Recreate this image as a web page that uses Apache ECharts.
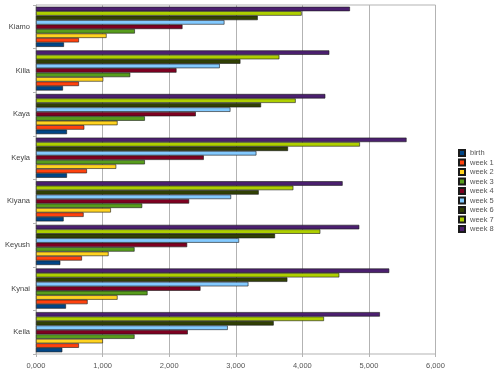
<!DOCTYPE html>
<html>
<head>
<meta charset="utf-8">
<script src="https://cdn.jsdelivr.net/npm/echarts@6/dist/echarts.min.js"></script>
<style>html,body{margin:0;padding:0;background:#fff;}#c{width:500px;height:380px;}</style>
</head>
<body>
<div id="c"></div>
<script>
var categories = ['Kiamo', 'Killa', 'Kaya', 'Keyla', 'Kiyana', 'Keyush', 'Kynai', 'Keila'];
var seriesNames = ['birth', 'week 1', 'week 2', 'week 3', 'week 4', 'week 5', 'week 6', 'week 7', 'week 8'];
var birth = [420, 405, 465, 465, 415, 365, 450, 395];
var week1 = [645, 645, 725, 765, 715, 690, 775, 645];
var week2 = [1060, 1010, 1225, 1205, 1125, 1090, 1225, 1005];
var week3 = [1485, 1415, 1635, 1635, 1595, 1480, 1675, 1480];
var week4 = [2200, 2110, 2400, 2520, 2300, 2270, 2470, 2280];
var week5 = [2830, 2760, 2920, 3310, 2930, 3050, 3190, 2880];
var week6 = [3330, 3070, 3380, 3785, 3345, 3590, 3775, 3570];
var week7 = [3990, 3655, 3900, 4865, 3865, 4270, 4555, 4325];
var week8 = [4715, 4405, 4345, 5565, 4605, 4855, 5305, 5165];
var xTickLabels = ['0,000', '1,000', '2,000', '3,000', '4,000', '5,000', '6,000'];
var colors = ['#004586', '#ff420e', '#ffd320', '#579d1c', '#7e0021', '#83caff', '#314004', '#aecf00', '#4b1f6f'];

var allData = [birth, week1, week2, week3, week4, week5, week6, week7, week8];
var series = [];
for (var i = seriesNames.length - 1; i >= 0; i--) {
  series.push({
    name: seriesNames[i],
    type: 'bar',
    data: allData[i],
    barGap: '0%',
    barCategoryGap: '8%',
    itemStyle: { color: colors[i], borderColor: '#1a1a1a', borderWidth: 0.6 }
  });
}

var FONT = 'Liberation Sans';
var chart = echarts.init(document.getElementById('c'), null, { renderer: 'canvas' });
chart.setOption({
  animation: false,
  backgroundColor: '#fff',
  textStyle: { fontFamily: FONT },
  grid: { left: 36, right: 64.5, top: 5, bottom: 26, show: true, borderColor: '#b3b3b3', borderWidth: 1, containLabel: false },
  legend: {
    orient: 'vertical', left: 453, top: 144,
    data: seriesNames,
    itemWidth: 6, itemHeight: 6, itemGap: 1.5,
    icon: 'rect',
    textStyle: { fontSize: 7.5, color: '#555', fontFamily: FONT, lineHeight: 8 }
  },
  xAxis: {
    type: 'value', min: 0, max: 6000, interval: 1000,
    axisLine: { show: false },
    axisTick: { show: true, length: 3, lineStyle: { color: '#b3b3b3' } },
    splitLine: { show: true, lineStyle: { color: '#b3b3b3', width: 1 } },
    axisLabel: { fontSize: 7.5, color: '#555', margin: 8, formatter: function (v) { return xTickLabels[Math.round(v / 1000)]; } }
  },
  yAxis: {
    type: 'category', data: categories, inverse: true,
    axisLine: { show: true, lineStyle: { color: '#b3b3b3' } },
    axisTick: { show: true, length: 3, lineStyle: { color: '#b3b3b3' } },
    axisLabel: { fontSize: 7.5, color: '#444', margin: 6 }
  },
  series: series
});
</script>
</body>
</html>
